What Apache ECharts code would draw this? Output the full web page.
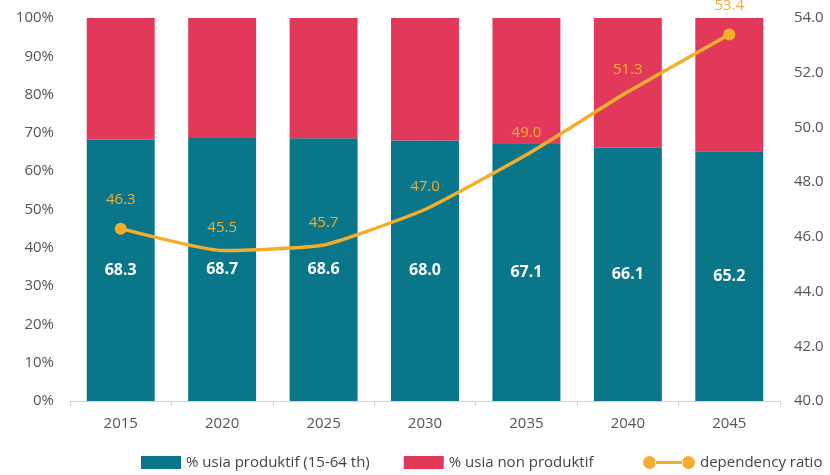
<!DOCTYPE html>
<html>
<head>
<meta charset="utf-8">
<script src="https://cdn.jsdelivr.net/npm/echarts@6/dist/echarts.min.js"></script>
<style>
  html, body { margin: 0; padding: 0; background: #fff; }
  #chart { width: 830px; height: 475px; }
</style>
</head>
<body>
<div id="chart"></div>
<script>
// Population structure and dependency ratio, 2015-2045
const years = ['2015', '2020', '2025', '2030', '2035', '2040', '2045'];
const productive = [68.3, 68.7, 68.6, 68.0, 67.1, 66.1, 65.2];
const nonProductive = [31.7, 31.3, 31.4, 32.0, 32.9, 33.9, 34.8];
const dependencyRatio = [46.3, 45.5, 45.7, 47.0, 49.0, 51.3, 53.4];

const seriesNames = ['% usia produktif (15-64 th)', '% usia non produktif', 'dependency ratio'];

const TEAL = '#097689';
const RED = '#e2395a';
const ORANGE = '#f5ad2e';
const FONT = '"Open Sans", "Noto Sans", sans-serif';

const chart = echarts.init(document.getElementById('chart'));

// only the first and last points of the ratio line carry a visible marker
const ratioData = dependencyRatio.map((v, i) => (
  i === 0 || i === dependencyRatio.length - 1
    ? { value: v }
    : { value: v, symbolSize: 0 }
));

const legendText = { fontSize: 15, color: '#444', fontFamily: FONT };

chart.setOption({
  animation: false,
  textStyle: { fontFamily: FONT },
  grid: { left: 70, right: 50, top: 18, bottom: 74 },
  legend: [
    {
      bottom: 0,
      left: 136,
      itemGap: 34,
      itemWidth: 40,
      itemHeight: 13,
      textStyle: legendText,
      data: [
        { name: seriesNames[0], icon: 'rect' },
        { name: seriesNames[1], icon: 'rect' }
      ]
    },
    {
      bottom: 0,
      left: 638,
      itemWidth: 52,
      itemHeight: 13,
      itemGap: 2,
      textStyle: legendText,
      data: [
        {
          name: seriesNames[2],
          icon: 'path://M0,6.5a6.5,6.5 0 1,0 13,0a6.5,6.5 0 1,0 -13,0Z M39,6.5a6.5,6.5 0 1,0 13,0a6.5,6.5 0 1,0 -13,0Z M12,5H40V8H12Z',
          itemStyle: { color: ORANGE }
        }
      ]
    }
  ],
  xAxis: {
    type: 'category',
    data: years,
    axisLine: { lineStyle: { color: '#c9d3dd', width: 1 } },
    axisTick: { show: true, length: 5, lineStyle: { color: '#c9d3dd' } },
    axisLabel: { color: '#555', fontSize: 15, margin: 15 }
  },
  yAxis: [
    {
      type: 'value',
      min: 0,
      max: 100,
      interval: 10,
      splitLine: { show: false },
      axisLine: { show: false },
      axisTick: { show: false },
      axisLabel: { color: '#555', fontSize: 15, margin: 16, formatter: '{value}%' }
    },
    {
      type: 'value',
      min: 40,
      max: 54,
      interval: 2,
      splitLine: { show: false },
      axisLine: { show: false },
      axisTick: { show: false },
      axisLabel: {
        color: '#555', fontSize: 15, margin: 14,
        formatter: v => v.toFixed(1)
      }
    }
  ],
  series: [
    {
      name: seriesNames[0],
      type: 'bar',
      stack: 'pop',
      barWidth: '67%',
      itemStyle: { color: TEAL },
      label: {
        show: true,
        position: 'inside',
        color: '#fff',
        fontWeight: 'bold',
        fontSize: 16,
        formatter: p => p.value.toFixed(1)
      },
      data: productive
    },
    {
      name: seriesNames[1],
      type: 'bar',
      stack: 'pop',
      barWidth: '67%',
      itemStyle: { color: RED },
      data: nonProductive
    },
    {
      name: seriesNames[2],
      type: 'line',
      yAxisIndex: 1,
      smooth: 0.15,
      symbol: 'circle',
      symbolSize: 12,
      lineStyle: { color: ORANGE, width: 3.5 },
      itemStyle: { color: ORANGE },
      label: {
        show: true,
        position: 'top',
        distance: 15,
        color: ORANGE,
        fontSize: 15,
        formatter: p => p.value.toFixed(1)
      },
      data: ratioData
    }
  ]
});
</script>
</body>
</html>
